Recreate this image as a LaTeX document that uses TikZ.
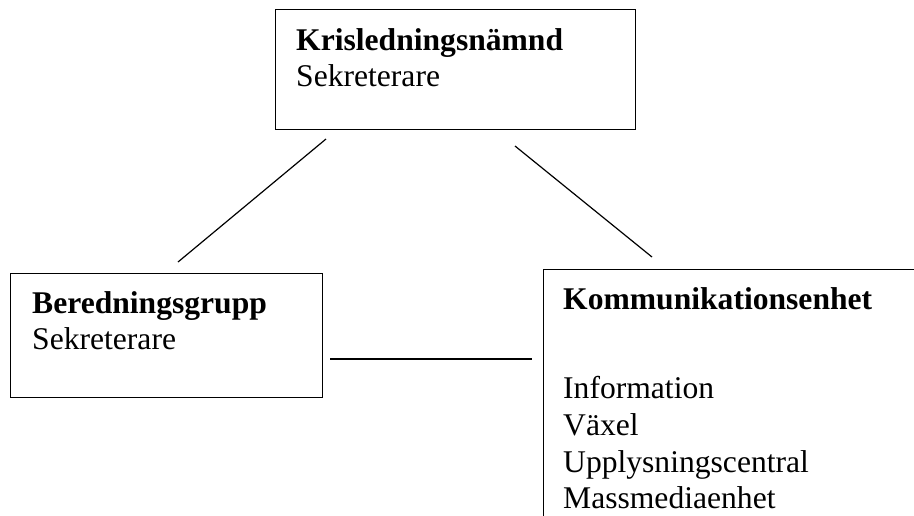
\documentclass[tikz,border=0pt]{standalone}
\usepackage{fontspec}
\setmainfont{Liberation Serif}
\begin{document}
\begin{tikzpicture}[x=1pt,y=-1pt,
  box/.style={draw, line width=1.3pt, inner sep=0pt, anchor=north west},
  txt/.style={anchor=base west, inner sep=0pt, font=\fontsize{31.6}{36.3}\selectfont},
  conn/.style={line width=1.2pt}]
\useasboundingbox (0,0) rectangle (914,515);
\clip (0,0) rectangle (914,515);
% boxes
\node[box, minimum width=360pt, minimum height=120pt] (top) at (275,9) {};
\node[box, minimum width=312pt, minimum height=124pt] (left) at (10,273) {};
\node[box, minimum width=420pt, minimum height=320pt] (right) at (543,269) {};
% texts
\node[txt] (t1) at (296,50) {\textbf{Krisledningsnämnd}};
\node[txt] (t2) at (296,86) {Sekreterare};
\node[txt] (l1) at (32,313) {\textbf{Beredningsgrupp}};
\node[txt] (l2) at (32,349) {Sekreterare};
\node[txt] (r1) at (563,309) {\textbf{Kommunikationsenhet}};
\node[txt] (r2) at (563,398) {Information};
\node[txt] (r3) at (563,435) {Växel};
\node[txt] (r4) at (563,472) {Upplysningscentral};
\node[txt] (r5) at (563,508) {Massmediaenhet};
% connectors
\coordinate (a1) at (326,139);
\coordinate (a2) at (178,262);
\coordinate (b1) at (515,146);
\coordinate (b2) at (652,257);
\coordinate (c1) at (330,359);
\coordinate (c2) at (532,359);
\draw[conn] (a1) -- (a2);
\draw[conn] (b1) -- (b2);
\draw[conn] (c1) -- (c2);
\end{tikzpicture}
\end{document}
